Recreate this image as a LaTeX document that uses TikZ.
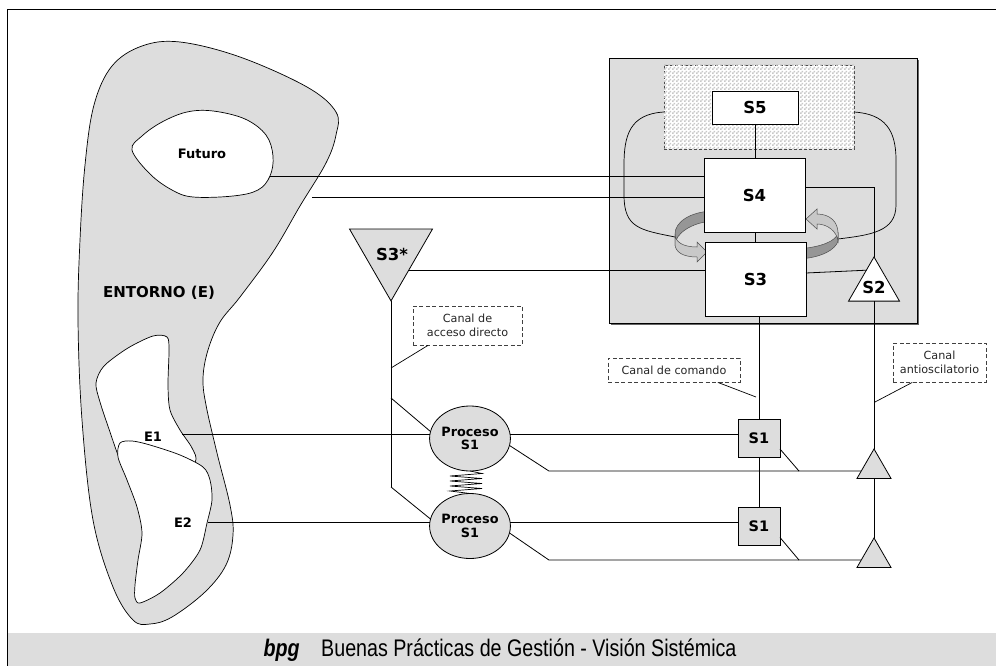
\documentclass[tikz,border=0pt]{standalone}
\usepackage{fontspec}
\setmainfont{DejaVu Sans}
\newfontfamily\footfont[FakeStretch=0.82]{Liberation Sans}
\usetikzlibrary{shapes.geometric,patterns,calc}
\definecolor{lg}{RGB}{221,221,221}
\definecolor{dg}{RGB}{150,150,150}
\definecolor{mg}{RGB}{200,200,200}
\definecolor{sh}{RGB}{100,100,100}
\definecolor{pc}{RGB}{200,200,200}
\pgfdeclarepatternformonly{mychecker}{\pgfpointorigin}{\pgfqpoint{4pt}{4pt}}{\pgfqpoint{4pt}{4pt}}{%
  \pgfpathrectangle{\pgfpointorigin}{\pgfqpoint{2pt}{2pt}}%
  \pgfpathrectangle{\pgfqpoint{2pt}{2pt}}{\pgfqpoint{2pt}{2pt}}%
  \pgfusepath{fill}}
\begin{document}
\begin{tikzpicture}[x=1pt,y=-1pt,line width=0.8pt,
  lbl/.style={inner sep=0,font=\fontsize{13}{13}\selectfont\bfseries},
  big/.style={inner sep=0,font=\fontsize{16.5}{16.5}\selectfont\bfseries},
  wbox/.style={draw,fill=white,inner sep=0,outer sep=0,font=\fontsize{16.5}{16.5}\selectfont\bfseries},
  sone/.style={draw,fill=lg,inner sep=0,outer sep=0,minimum width=42pt,minimum height=38pt,font=\fontsize{14.5}{14.5}\selectfont\bfseries},
  proc/.style={ellipse,draw,fill=lg,inner sep=0,outer sep=0,minimum width=75pt,minimum height=65pt,align=center,font=\fontsize{12.8}{13.5}\selectfont\bfseries},
  tri/.style={regular polygon,regular polygon sides=3,draw,inner sep=0,outer sep=0},
  canal/.style={draw=black!75,dashed,dash pattern=on 4pt off 2.5pt,fill=white,inner sep=0,align=center,font=\fontsize{11.2}{14}\selectfont,text=black!85},
  blob/.style={draw,line width=0.7pt},
  ptr/.style={line width=0.7pt},
  ribbon/.style={draw=black!70,line width=0.5pt}]
\useasboundingbox (0,0) rectangle (996,666);
% frame and footer
\fill[lg] (8,633) rectangle (996,666);
\draw (7,666) -- (7,9) -- (996,9);
\node[inner sep=0,font=\footfont\fontsize{24}{24}\selectfont] (foot) at (500,650)
  {{\bfseries\itshape bpg}\hspace{0.9em}Buenas Prácticas de Gestión - Visión Sistémica};
% environment blobs
\path[blob,fill=lg] plot[smooth cycle,tension=0.6] coordinates {(180,42) (240,57) (307,87) (336,112) (336,135) (326,163) (300,206) (273,252) (240,297) (220,322) (208,350) (203,378) (206,405) (217,453) (230,505) (233,535) (226,565) (205,592) (172,617) (150,624) (133,620) (113,587) (93,520) (82,420) (78,320) (80,240) (85,165) (94,105) (112,66) (142,46)};
\path[blob,fill=white] plot[smooth cycle,tension=0.6] coordinates {(132,150) (142,136) (162,122) (187,112) (213,111) (245,119) (266,135) (273,156) (270,176) (258,190) (233,196) (193,197) (172,190) (150,174)};
\path[blob,fill=white] plot[smooth cycle,tension=0.5] coordinates {(167,337) (153,336) (128,348) (104,366) (96,383) (100,402) (110,432) (120,460) (135,490) (170,490) (195,463) (192,448) (180,430) (170,410) (168,385) (169,350)};
\path[blob,fill=white] plot[smooth cycle,tension=0.5] coordinates {(120,443) (132,441) (150,445) (180,455) (203,467) (210,480) (212,500) (207,523) (200,550) (183,573) (160,593) (140,603) (135,598) (135,585) (138,560) (142,533) (137,507) (127,480) (118,457)};
\node[lbl] (fut) at (202,154) {Futuro};
\node[inner sep=0,font=\fontsize{15}{15}\selectfont\bfseries] (ent) at (159,293) {ENTORNO (E)};
\node[lbl] (e1lab) at (153,437) {E1};
\node[lbl] (e2lab) at (183,523) {E2};
\coordinate (fu) at (270,176);
\coordinate (eo) at (312,197);
\coordinate (e1) at (182,434);
\coordinate (e2) at (208,522);
% system box
\fill[sh] (611,60) rectangle (919,325);
\node[draw,fill=lg,inner sep=0,outer sep=0,minimum width=308pt,minimum height=265pt] (vsm) at (763,190.5) {};
\node[draw=black!70,dashed,dash pattern=on 3pt off 2pt,fill=white,postaction={pattern=mychecker,pattern color=pc},inner sep=0,minimum width=190pt,minimum height=84pt] (meta) at (759,107) {};
\node[wbox,minimum width=86pt,minimum height=33pt] (S5) at (755,107.5) {S5};
\draw[line width=0.7pt] (664,112) .. controls (630,114) and (624,135) .. (624,165) -- (624,195) .. controls (624,228) and (640,230) .. (675,237);
\draw[line width=0.7pt] (854,112) .. controls (885,114) and (896,130) .. (896,160) -- (896,205) .. controls (896,232) and (870,235) .. (838,239);
% rotating arrows
\filldraw[ribbon,fill=dg] (712,211) .. controls (690,212) and (675,222) .. (675,234) -- (675,244) .. controls (676,234) and (690,223) .. (712,221) -- cycle;
\filldraw[ribbon,fill=mg] (675,234) .. controls (675,242) and (683,247) .. (697,247) -- (697,242) -- (707,252) -- (697,262) -- (697,257) .. controls (683,257) and (675,252) .. (675,244) -- cycle;
\filldraw[ribbon,fill=dg] (798,249) .. controls (822,247) and (836,241) .. (838,233) -- (838,241) .. controls (836,249) and (822,258) .. (798,259) -- cycle;
\filldraw[ribbon,fill=mg] (838,241) .. controls (837,232) and (828,224) .. (817,224) -- (817,229) -- (806,219) -- (817,209) -- (817,214) .. controls (830,214) and (838,222) .. (838,233) -- cycle;
\node[wbox,minimum width=101pt,minimum height=74pt] (S4) at (754.5,195) {S4};
\node[wbox,minimum width=101pt,minimum height=74pt] (S3) at (755.5,279) {S3};
\node[tri,fill=white,minimum size=58.9pt] (S2) at (874,286.4) {};
\node[big] (S2t) at (874,287.5) {S2};
\draw (S5.south) -- (S5.south |- S4.north);
\draw (S3.north) -- (S3.north |- S4.south);
\draw ([yshift=8pt]S4.east) -| (S2.corner 1);
\draw ([yshift=6pt]S3.east) -- ($(S2.corner 1)!0.3!(S2.corner 2)$);
% S3*
\node[tri,fill=lg,shape border rotate=180,minimum size=95.8pt] (S3s) at (391,253) {};
\node[big] (S3st) at (392,254) {S3*};
\coordinate (s3r) at ($(S3s.corner 1)!0.42!(S3s.corner 2)$);
\draw (s3r) -- (s3r -| S3.west);
\draw (fu) -- (fu -| S4.west);
\draw (eo) -- (eo -| S4.west);
% operations
\node[proc] (P1) at (470,438.5) {Proceso\\S1};
\node[proc] (P2) at (470,526) {Proceso\\S1};
\node[sone] (S1a) at (759,438) {S1};
\node[sone] (S1b) at (759,526.5) {S1};
\node[tri,fill=lg,minimum size=39.3pt] (T1) at (874,468.6) {};
\node[tri,fill=lg,minimum size=39.3pt] (T2) at (874,557.6) {};
\coordinate (t1l) at ($(T1.corner 1)!0.75!(T1.corner 2)$);
\coordinate (t2l) at ($(T2.corner 1)!0.75!(T2.corner 2)$);
\coordinate (k1) at (549,0);
\coordinate (k2) at (799,0);
\coordinate (d1) at (391,398);
\coordinate (d2) at (391,487);
\draw (S3s.corner 1) -- (d2);
\draw (d1) -- (P1.170);
\draw (d2) -- (P2.170);
\draw (e1) -- (e1 -| P1.west);
\draw (e2) -- (e2 -| P2.west);
\draw ([yshift=4pt]P1.east) -- ([yshift=4pt]P1.east -| S1a.west);
\draw ([yshift=4pt]P2.east) -- ([yshift=4pt]P2.east -| S1b.west);
\draw (P1.-10) -- (k1 |- t1l) -- (t1l);
\draw (P2.-10) -- (k1 |- t2l) -- (t2l);
\draw ([yshift=-11pt]S1a.east) -- (k2 |- t1l);
\draw ([yshift=-11pt]S1b.east) -- (k2 |- t2l);
\draw (S1a.north) -- (S1a.north |- S3.south);
\draw (S1a.south) -- (S1b.north);
\draw (S2.side 2) -- (T1.corner 1);
\draw (T1.side 2) -- (T2.corner 1);
\draw[line width=0.7pt] (P1.south) -- (482,473.5) -- (450,476) -- (482,478.5) -- (450,481) -- (482,483.5) -- (450,486) -- (482,488.5) -- (450,491) -- (P2.north);
% canal labels
\node[canal,minimum width=109pt,minimum height=39pt] (cA) at (467.5,325.5) {Canal de\\acceso directo};
\node[canal,minimum width=132pt,minimum height=24pt] (cB) at (674,370) {Canal de comando};
\node[canal,minimum width=93pt,minimum height=39pt] (cC) at (939.5,362.5) {Canal\\antioscilatorio};
\coordinate (pA) at (391,368);
\coordinate (pB) at (756,397);
\coordinate (pC) at (875,402);
\draw[ptr] ($(cA.south west)!0.14!(cA.south east)$) -- (pA);
\draw[ptr] ($(cB.south west)!0.83!(cB.south east)$) -- (pB);
\draw[ptr] ($(cC.south west)!0.21!(cC.south east)$) -- (pC);
\end{tikzpicture}
\end{document}
